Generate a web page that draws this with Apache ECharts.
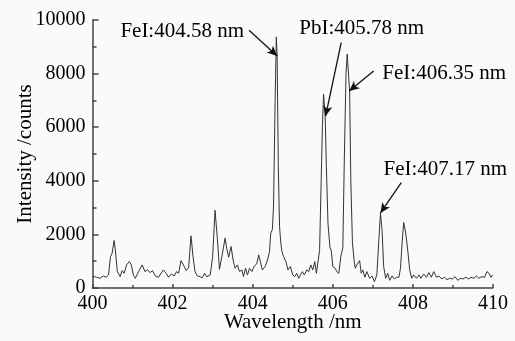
<!DOCTYPE html>
<html>
<head>
<meta charset="utf-8">
<script src="https://cdn.jsdelivr.net/npm/echarts@6/dist/echarts.min.js"></script>
<style>
  html, body { margin: 0; padding: 0; background: #fafafa; }
  #chart { width: 515px; height: 341px; }
</style>
</head>
<body>
<div id="chart"></div>
<script>
// spectrum
const wavelength = [
  400.00, 400.05, 400.10, 400.19, 400.27, 400.34, 400.40, 400.45, 400.49, 400.54,
  400.57, 400.62, 400.69, 400.74, 400.79, 400.85, 400.92, 400.97, 401.02, 401.07,
  401.15, 401.24, 401.31, 401.37, 401.44, 401.50, 401.57, 401.65, 401.70, 401.77,
  401.84, 401.90, 401.97, 402.04, 402.10, 402.15, 402.21, 402.27, 402.34, 402.40,
  402.46, 402.51, 402.56, 402.62, 402.69, 402.74, 402.80, 402.85, 402.94, 403.00,
  403.06, 403.12, 403.17, 403.23, 403.31, 403.35, 403.40, 403.46, 403.51, 403.56,
  403.62, 403.67, 403.73, 403.77, 403.82, 403.87, 403.92, 403.98, 404.04, 404.10,
  404.15, 404.19, 404.24, 404.31, 404.37, 404.42, 404.45, 404.49, 404.52, 404.56,
  404.59, 404.61, 404.64, 404.67, 404.70, 404.73, 404.77, 404.83, 404.88, 404.94,
  405.00, 405.05, 405.10, 405.15, 405.19, 405.24, 405.29, 405.35, 405.40, 405.45,
  405.50, 405.55, 405.59, 405.67, 405.71, 405.74, 405.77, 405.81, 405.84, 405.88,
  405.93, 405.96, 406.00, 406.06, 406.10, 406.15, 406.20, 406.25, 406.29, 406.33,
  406.36, 406.40, 406.42, 406.45, 406.49, 406.53, 406.56, 406.60, 406.67, 406.71,
  406.75, 406.80, 406.85, 406.92, 406.98, 407.04, 407.10, 407.15, 407.19, 407.23,
  407.27, 407.32, 407.37, 407.42, 407.48, 407.54, 407.59, 407.65, 407.69, 407.73,
  407.77, 407.82, 407.87, 407.92, 407.97, 408.02, 408.09, 408.15, 408.20, 408.27,
  408.34, 408.40, 408.46, 408.52, 408.59, 408.65, 408.72, 408.79, 408.85, 408.92,
  408.99, 409.05, 409.12, 409.19, 409.25, 409.32, 409.39, 409.45, 409.52, 409.59,
  409.65, 409.72, 409.79, 409.85, 409.90, 409.95, 409.99
];
const intensity = [
  430, 420, 400, 363, 449, 400, 487, 1172, 1298, 1772,
  1423, 612, 424, 649, 549, 861, 986, 861, 487, 363,
  612, 861, 612, 674, 574, 649, 449, 400, 524, 674,
  549, 400, 524, 449, 612, 549, 1024, 861, 649, 761,
  1947, 1172, 612, 450, 420, 380, 549, 420, 487, 1173,
  2900, 1798, 699, 1173, 1860, 1486, 1150, 1548, 1049, 736,
  861, 612, 674, 424, 736, 487, 736, 612, 824, 898,
  1236, 986, 674, 799, 1049, 1360, 2048, 2173, 3022, 7000,
  9370, 8660, 4500, 2300, 1700, 1360, 1173, 986, 674, 799,
  487, 424, 549, 362, 487, 612, 487, 674, 612, 861,
  674, 986, 549, 1400, 4000, 6000, 7230, 6400, 4500, 2400,
  1500, 1420, 799, 736, 612, 549, 1173, 1500, 5000, 8000,
  8730, 7800, 7350, 4000, 1700, 1050, 736, 861, 1024, 549,
  674, 400, 612, 362, 449, 237, 487, 1798, 2796, 2173,
  799, 362, 549, 287, 449, 337, 400, 400, 736, 1673,
  2447, 2048, 1423, 674, 362, 487, 362, 487, 362, 524,
  400, 574, 400, 612, 400, 449, 337, 400, 312, 362,
  337, 424, 287, 362, 337, 400, 337, 400, 362, 449,
  362, 424, 400, 612, 549, 400, 487
];

// peak labels: text, text anchor [x, y], arrow start [x, y], arrow tip [x, y]
const peakNames = ['FeI:404.58 nm', 'PbI:405.78 nm', 'FeI:406.35 nm', 'FeI:407.17 nm'];
const labelPos = [[402.24, 9590], [406.72, 9700], [408.78, 8010], [408.81, 4420]];
const arrowFrom = [[403.91, 9620], [406.21, 9160], [407.02, 8100], [407.71, 3930]];
const arrowTo = [[404.61, 8660], [405.82, 6415], [406.41, 7350], [407.19, 2800]];

const font = 'Liberation Serif';
const chart = echarts.init(document.getElementById('chart'), null, {renderer: 'canvas'});

chart.setOption({
  backgroundColor: '#fafafa',
  animation: false,
  grid: {left: 92.5, right: 22, top: 20, bottom: 53, outerBoundsMode: 'none', containLabel: false},
  xAxis: {
    type: 'value',
    min: 400,
    max: 410,
    interval: 2,
    name: 'Wavelength /nm',
    nameLocation: 'middle',
    nameGap: 24,
    nameMoveOverlap: false,
    nameTextStyle: {fontFamily: font, fontSize: 21, color: '#000'},
    axisLine: {lineStyle: {color: '#444', width: 1.5}},
    axisTick: {inside: true, length: 4, lineStyle: {color: '#444', width: 1.5}},
    minorTick: {show: true, splitNumber: 2, length: 3, lineStyle: {color: '#444', width: 1.5}},
    splitLine: {show: false},
    axisLabel: {fontFamily: font, fontSize: 20, color: '#000', margin: 6, formatter: v => String(v)}
  },
  yAxis: {
    type: 'value',
    min: 0,
    max: 10000,
    interval: 2000,
    name: 'Intensity /counts',
    nameLocation: 'middle',
    nameGap: 57,
    nameMoveOverlap: false,
    nameTextStyle: {fontFamily: font, fontSize: 21, color: '#000'},
    axisLine: {show: true, lineStyle: {color: '#444', width: 1.5}},
    axisTick: {show: true, inside: true, length: 6, lineStyle: {color: '#444', width: 1.5}},
    minorTick: {show: true, splitNumber: 2, length: 4, lineStyle: {color: '#444', width: 1.5}},
    splitLine: {show: false},
    axisLabel: {fontFamily: font, fontSize: 20, color: '#000', margin: 7, formatter: v => String(v)}
  },
  series: [
    {
      type: 'line',
      data: wavelength.map((w, i) => [w, intensity[i]]),
      showSymbol: false,
      silent: true,
      lineStyle: {color: '#333', width: 1},
      markLine: {
        silent: true,
        symbol: ['none', 'arrow'],
        symbolSize: [7, 10],
        label: {show: false},
        lineStyle: {color: '#111', width: 1.3, type: 'solid'},
        data: arrowFrom.map((p, i) => [{coord: p}, {coord: arrowTo[i]}])
      },
      markPoint: {
        silent: true,
        symbol: 'circle',
        symbolSize: 0,
        label: {
          show: true,
          position: 'inside',
          fontFamily: font,
          fontSize: 21,
          color: '#000',
          formatter: p => p.name
        },
        data: peakNames.map((n, i) => ({name: n, coord: labelPos[i]}))
      }
    }
  ]
});
</script>
</body>
</html>
